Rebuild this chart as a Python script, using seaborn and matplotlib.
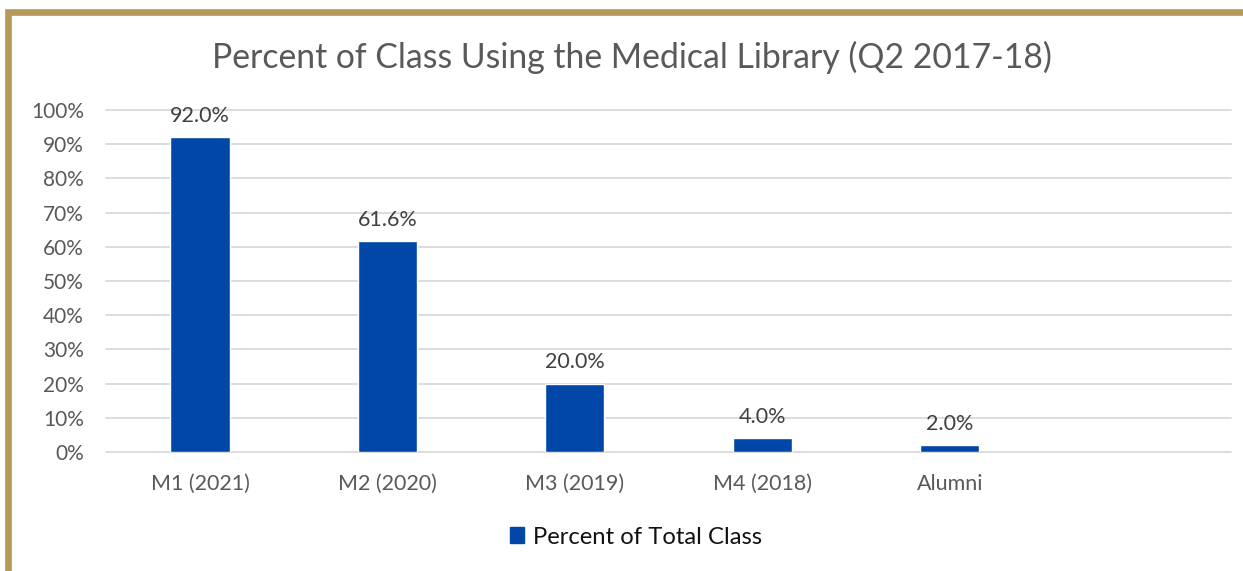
import matplotlib
matplotlib.use("Agg")
import matplotlib.pyplot as plt
import matplotlib.patches as mpatches
import seaborn as sns
import pandas as pd

categories = ["M1 (2021)", "M2 (2020)", "M3 (2019)", "M4 (2018)", "Alumni"]
values = [92.0, 61.6, 20.0, 4.0, 2.0]
series_name = "Percent of Total Class"
title = "Percent of Class Using the Medical Library (Q2 2017-18)"
ytick_values = [0, 10, 20, 30, 40, 50, 60, 70, 80, 90, 100]

sns.set_theme(style="white")
plt.rcParams['font.family'] = ['Lato', 'DejaVu Sans']

df = pd.DataFrame({"cat": categories, "val": values, "series": series_name})

fig = plt.figure(figsize=(12.43, 5.71), dpi=100)
ax = fig.add_axes([106.25/1243, 119/571, (1231-106.25)/1243, 342/571])

bar_color = "#0047A8"
sns.barplot(data=df, x="cat", y="val", hue="series", palette=[bar_color],
            width=0.315, ax=ax, legend=False, saturation=1)

ax.set_xlim(-0.5, 5.5)
ax.set_ylim(0, 100)
ax.set_yticks(ytick_values)
ax.set_yticklabels([f"{v}%" for v in ytick_values])
ax.yaxis.grid(True, color="#D9D9D9", linewidth=1.3)
ax.set_axisbelow(True)
for s in ax.spines.values():
    s.set_visible(False)
ax.set_xlabel("")
ax.set_ylabel("")
ax.tick_params(axis="y", length=0, pad=16, labelsize=15, labelcolor="#595959")
ax.tick_params(axis="x", length=0, pad=16, labelsize=15.5, labelcolor="#595959")
for gl in ax.get_ygridlines():
    gl.set_clip_on(False)

for c in ax.containers:
    ax.bar_label(c, labels=[f"{v:.1f}%" for v in values], padding=8,
                 fontsize=15.5, color="#404040")

fig.text(632/1243, 1-57/571, title, ha="center", va="center",
         fontsize=24.3, color="#595959")

handle = mpatches.Patch(color=bar_color, label=series_name)
fig.legend(handles=[handle], loc="center", bbox_to_anchor=(636/1243, 1-537/571),
           frameon=False, fontsize=17.2, handlelength=0.6, handleheight=0.6,
           handletextpad=0.35, labelcolor="#111111")

border = mpatches.Rectangle((8/1243, -0.5), 3, 1.5 - 12/571, transform=fig.transFigure,
                            fill=False, edgecolor="#B5995A", linewidth=4.8)
fig.patches.append(border)

fig.savefig("out.png", dpi=100, facecolor="white")
